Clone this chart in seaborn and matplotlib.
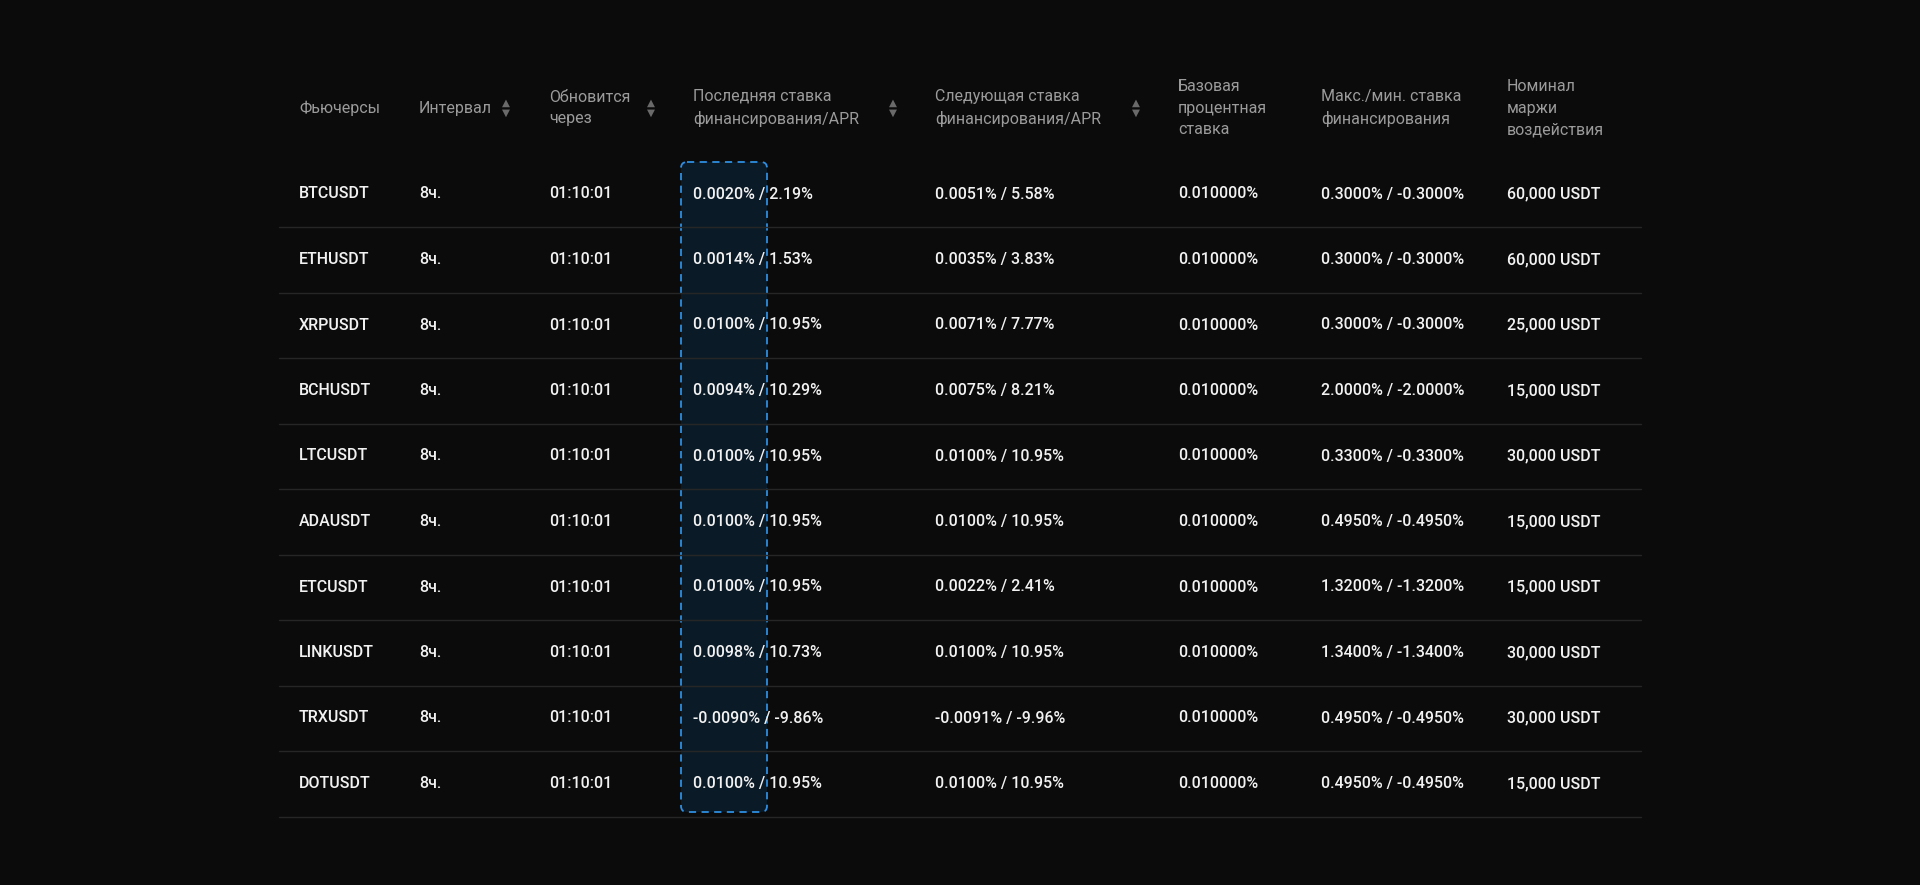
import matplotlib
matplotlib.use("Agg")
import matplotlib.pyplot as plt
import seaborn as sns
from matplotlib.patches import FancyBboxPatch

sns.set_theme(style="dark")
plt.rcParams['font.family'] = ['Roboto', 'DejaVu Sans']

headers = ["Фьючерсы", "Интервал", "Обновится\nчерез", "Последняя ставка\nфинансирования/APR",
           "Следующая ставка\nфинансирования/APR", "Базовая\nпроцентная\nставка",
           "Макс./мин. ставка\nфинансирования", "Номинал\nмаржи\nвоздействия"]
sortable = [False, True, True, True, True, False, False, False]
futures = ["BTCUSDT", "ETHUSDT", "XRPUSDT", "BCHUSDT", "LTCUSDT", "ADAUSDT", "ETCUSDT", "LINKUSDT", "TRXUSDT", "DOTUSDT"]
interval = ["8ч."] * 10
update_in = ["01:10:01"] * 10
last_rate = ["0.0020%", "0.0014%", "0.0100%", "0.0094%", "0.0100%", "0.0100%", "0.0100%", "0.0098%", "-0.0090%", "0.0100%"]
last_apr = ["2.19%", "1.53%", "10.95%", "10.29%", "10.95%", "10.95%", "10.95%", "10.73%", "-9.86%", "10.95%"]
next_rate = ["0.0051%", "0.0035%", "0.0071%", "0.0075%", "0.0100%", "0.0100%", "0.0022%", "0.0100%", "-0.0091%", "0.0100%"]
next_apr = ["5.58%", "3.83%", "7.77%", "8.21%", "10.95%", "10.95%", "2.41%", "10.95%", "-9.96%", "10.95%"]
base_rate = ["0.010000%"] * 10
max_min = ["0.3000% / -0.3000%", "0.3000% / -0.3000%", "0.3000% / -0.3000%", "2.0000% / -2.0000%",
           "0.3300% / -0.3300%", "0.4950% / -0.4950%", "1.3200% / -1.3200%", "1.3400% / -1.3400%",
           "0.4950% / -0.4950%", "0.4950% / -0.4950%"]
notional = ["60,000 USDT", "60,000 USDT", "25,000 USDT", "15,000 USDT", "30,000 USDT",
            "15,000 USDT", "15,000 USDT", "30,000 USDT", "30,000 USDT", "15,000 USDT"]

bg = "#0b0b0b"
fig = plt.figure(figsize=(19.2, 8.85), dpi=100, facecolor=bg)
ax = fig.add_axes([0, 0, 1, 1])
ax.set_facecolor(bg)
ax.set_xlim(0, 1920)
ax.set_ylim(885, 0)
ax.axis("off")

col_x = [299, 419, 549, 693, 935, 1178, 1321, 1507]
icon_x = [None, 506, 651, 893, 1136, None, None, None]
head_y = 108
row0, dy = 194, 65.5

box = FancyBboxPatch((681, 162), 86, 650, boxstyle="round,pad=0,rounding_size=6",
                     facecolor="#0b1a27", edgecolor="#2e8ee0", linestyle=(0, (4, 3)), linewidth=1.3, zorder=1)
ax.add_patch(box)

hc = "#9b9b9b"
for x, h, s, ix in zip(col_x, headers, sortable, icon_x):
    ax.text(x, head_y, h, color=hc, fontsize=11.5, va="center", ha="left", linespacing=1.55, zorder=3)
    if s:
        ax.text(ix, head_y - 5, "▲", color="#6a6a6a", fontsize=7.5, ha="center", va="center", zorder=3)
        ax.text(ix, head_y + 5, "▼", color="#6a6a6a", fontsize=7.5, ha="center", va="center", zorder=3)

tc = "#f2f2f2"
for i in range(len(futures)):
    y = row0 + i * dy
    vals = [futures[i], interval[i], update_in[i], f"{last_rate[i]} / {last_apr[i]}",
            f"{next_rate[i]} / {next_apr[i]}", base_rate[i], max_min[i], notional[i]]
    for x, v in zip(col_x, vals):
        ax.text(x, y, v, color=tc, fontsize=11.5, fontweight="medium", va="center", ha="left", zorder=3)
    ax.plot([279, 1641], [y + 33, y + 33], color="#262626", linewidth=1, zorder=2)

fig.savefig("out.png", dpi=100, facecolor=bg)
